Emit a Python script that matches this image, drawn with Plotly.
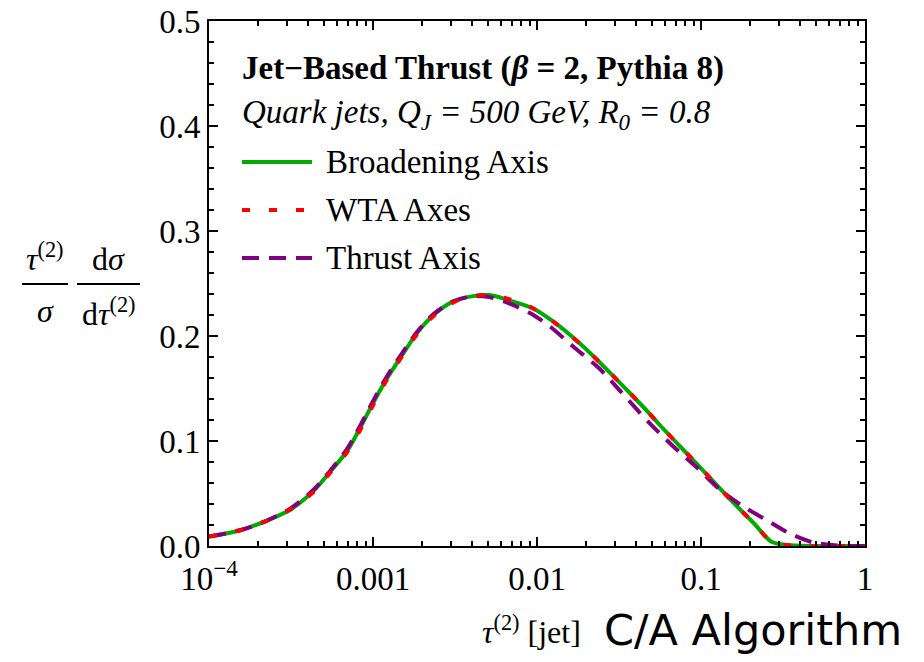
import plotly.graph_objects as go

# ---------------- data ----------------
tau_broad = [1.0e-4, 1.55e-4, 2.24e-4, 3.16e-4, 4.37e-4, 5.50e-4, 6.92e-4, 8.32e-4,
             1.0e-3, 1.20e-3, 1.51e-3, 1.86e-3, 2.34e-3, 3.09e-3, 4.07e-3, 5.13e-3,
             6.76e-3, 9.55e-3, 1.26e-2, 1.82e-2, 2.63e-2, 3.72e-2, 4.79e-2, 5.62e-2,
             9.33e-2, 0.158, 0.209, 0.269, 0.331, 0.50, 1.0]
val_broad = [0.009, 0.015, 0.024, 0.035, 0.053, 0.071, 0.090, 0.112,
             0.136, 0.158, 0.182, 0.203, 0.220, 0.233, 0.238, 0.239,
             0.234, 0.226, 0.2136, 0.193, 0.169, 0.145, 0.127, 0.115,
             0.079, 0.041, 0.022, 0.004, 0.001, 0.0, 0.0]

tau_wta = [1.0e-4, 1.55e-4, 2.24e-4, 3.16e-4, 4.37e-4, 5.50e-4, 6.92e-4, 8.32e-4,
           1.0e-3, 1.20e-3, 1.51e-3, 1.86e-3, 2.34e-3, 3.09e-3, 4.07e-3, 5.13e-3,
           6.76e-3, 9.55e-3, 1.26e-2, 1.82e-2, 2.63e-2, 3.72e-2, 4.79e-2, 5.62e-2,
           9.33e-2, 0.158, 0.209, 0.269, 0.331, 0.50, 1.0]
val_wta = [0.009, 0.015, 0.024, 0.035, 0.052, 0.070, 0.089, 0.110,
           0.134, 0.157, 0.181, 0.202, 0.219, 0.232, 0.238, 0.239,
           0.235, 0.226, 0.2136, 0.193, 0.169, 0.145, 0.127, 0.115,
           0.079, 0.041, 0.022, 0.004, 0.001, 0.0, 0.0]

tau_thrust = [1.0e-4, 1.55e-4, 2.24e-4, 3.16e-4, 4.37e-4, 5.50e-4, 6.92e-4, 8.32e-4,
              1.0e-3, 1.20e-3, 1.51e-3, 1.86e-3, 2.34e-3, 3.09e-3, 4.07e-3, 5.13e-3,
              6.76e-3, 9.12e-3, 1.20e-2, 1.66e-2, 2.40e-2, 3.16e-2, 4.79e-2, 6.76e-2,
              9.33e-2, 0.132, 0.182, 0.251, 0.347, 0.479, 0.631, 0.794, 1.0]
val_thrust = [0.009, 0.015, 0.024, 0.036, 0.054, 0.072, 0.092, 0.114,
              0.138, 0.160, 0.184, 0.204, 0.221, 0.233, 0.238, 0.237,
              0.231, 0.2216, 0.209, 0.190, 0.169, 0.149, 0.118, 0.095,
              0.0755, 0.053, 0.0374, 0.0247, 0.012, 0.0035, 0.001, 0.0, 0.0]

x_tickvals = [1e-4, 1e-3, 1e-2, 1e-1, 1]
x_ticktext = ["10<sup>\u22124</sup>", "0.001", "0.01", "0.1", "1"]
x_minor = [m * 10.0 ** e for e in (-4, -3, -2, -1) for m in range(2, 10)]
y_tickvals = [0.0, 0.1, 0.2, 0.3, 0.4, 0.5]

series_names = ["Broadening Axis", "WTA Axes", "Thrust Axis"]
legend_title = "<b>Jet\u2212Based Thrust (<i>\u03b2</i> = 2, Pythia 8)</b>"
legend_sub = "<i>Quark jets, Q<sub>J</sub> = 500 GeV, R<sub>0</sub> = 0.8</i>"

# ---------------- styling ----------------
GREEN = "rgb(0,170,0)"
RED = "rgb(255,0,0)"
PURPLE = "rgb(128,0,128)"
SERIF = "Liberation Serif"
FS = 33
LW = 4
DOT = "8px,19px"
DASH = "17px,10px"

# the page body has an 8px margin, so the figure is drawn 8px right/down
OFF = 8
FIG_W, FIG_H = 924 - OFF, 662 - OFF
# plot area in screenshot pixels
SL, ST, W, H = 209, 21, 656, 525
L, T = SL - OFF, ST - OFF


def px(x):
    return (x - SL) / W


def py(y):
    return (ST + H - y) / H


fig = go.Figure()
fig.add_trace(go.Scatter(x=tau_broad, y=val_broad, mode="lines", name=series_names[0],
                         line=dict(color=GREEN, width=LW, shape="spline", smoothing=0.8)))
fig.add_trace(go.Scatter(x=tau_thrust, y=val_thrust, mode="lines", name=series_names[2],
                         line=dict(color=PURPLE, width=LW, dash=DASH, shape="spline", smoothing=0.8)))
fig.add_trace(go.Scatter(x=tau_wta, y=val_wta, mode="lines", name=series_names[1],
                         line=dict(color=RED, width=LW, dash=DOT, shape="spline", smoothing=0.8)))

axis_common = dict(showline=True, linecolor="black", linewidth=2, mirror="ticks",
                   ticks="inside", tickcolor="black", tickwidth=2, ticklen=9,
                   showgrid=False, zeroline=False, automargin=False,
                   ticklabeloverflow="allow",
                   tickfont=dict(family=SERIF, size=FS, color="black"))

fig.update_xaxes(type="log", range=[-4, 0], tickmode="array", tickvals=x_tickvals,
                 ticktext=x_ticktext, ticklabelstandoff=2,
                 minor=dict(tickmode="array", tickvals=x_minor, ticks="inside", ticklen=5,
                            tickwidth=1.5, tickcolor="black", showgrid=False),
                 **axis_common)
fig.update_yaxes(range=[0, 0.5], tickmode="array", tickvals=y_tickvals, tickformat=".1f",
                 minor=dict(dtick=0.02, ticks="inside", ticklen=5, tickwidth=1.5,
                            tickcolor="black", showgrid=False),
                 **axis_common)

ann = []
shapes = []


def text(x, y, s, size=FS, family=SERIF, xanchor="left"):
    ann.append(dict(x=px(x), y=py(y), xref="paper", yref="paper", text=s, showarrow=False,
                    xanchor=xanchor, yanchor="middle",
                    font=dict(family=family, size=size, color="black")))


# legend block
text(240, 68, legend_title, size=33)
text(240, 115, legend_sub, size=33)
leg = [(162, GREEN, None, series_names[0]), (210, RED, DOT, series_names[1]),
       (258, PURPLE, DASH, series_names[2])]
for yy, col, dash, name in leg:
    ln = dict(color=col, width=LW)
    if dash:
        ln["dash"] = dash
    shapes.append(dict(type="line", xref="paper", yref="paper", x0=px(242), x1=px(312),
                       y0=py(yy), y1=py(yy), line=ln))
    text(324, yy, name, size=33)

# y-axis label as two fractions
shapes.append(dict(type="line", xref="paper", yref="paper", x0=px(22), x1=px(68),
                   y0=py(284), y1=py(284), line=dict(color="black", width=2)))
shapes.append(dict(type="line", xref="paper", yref="paper", x0=px(77), x1=px(140),
                   y0=py(284), y1=py(284), line=dict(color="black", width=2)))
text(45, 257, "<i>\u03c4</i><sup>(2)</sup>", size=32, xanchor="center")
text(45, 311, "<i>\u03c3</i>", size=32, xanchor="center")
text(108.5, 259, "d<i>\u03c3</i>", size=32, xanchor="center")
text(108.5, 312, "d<i>\u03c4</i><sup>(2)</sup>", size=32, xanchor="center")

# x-axis label
text(480, 630, "<i>\u03c4</i><sup>(2)</sup> [jet]", size=32)
text(602, 630, "C/A Algorithm", size=43, family="DejaVu Sans")

fig.update_layout(
    width=FIG_W, height=FIG_H,
    margin=dict(l=L, r=FIG_W - L - W, t=T, b=FIG_H - T - H, autoexpand=False),
    paper_bgcolor="white", plot_bgcolor="white",
    showlegend=False,
    annotations=ann, shapes=shapes,
)

fig.write_html("out.html")
